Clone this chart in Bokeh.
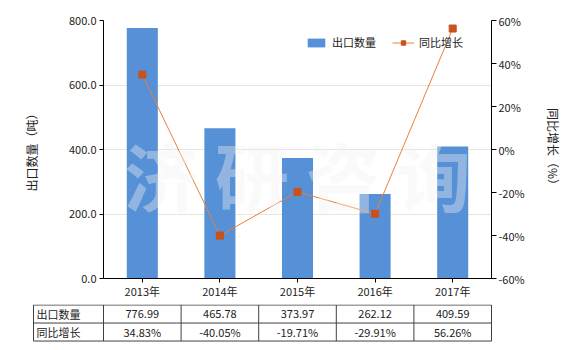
from bokeh.plotting import figure
from bokeh.models import (Range1d, LinearAxis, FactorRange, PrintfTickFormatter,
                          FixedTicker, Legend, LegendItem, Label)
from bokeh.layouts import column, row
from bokeh.core.properties import value
from bokeh.embed import file_html
from bokeh.resources import INLINE

years = ["2013年", "2014年", "2015年", "2016年", "2017年"]
export_qty = [776.99, 465.78, 373.97, 262.12, 409.59]
yoy_growth = [34.83, -40.05, -19.71, -29.91, 56.26]
row_labels = ["出口数量", "同比增长"]
left_ticks = [0, 200, 400, 600, 800]
right_ticks = [-60, -40, -20, 0, 20, 40, 60]

FONT = "Noto Sans CJK SC"
BAR = "#5690D6"
LINE = "#E8803A"
MARK = "#C9511C"
TXT = "#222222"

# ---------------- main chart ----------------
p = figure(frame_width=388, frame_height=258, x_range=FactorRange(*years, range_padding=0),
           y_range=Range1d(0, 800), output_backend="svg", toolbar_location=None,
           min_border_left=103, min_border_right=89, min_border_top=20,
           min_border_bottom=26)
p.outline_line_color = None
p.background_fill_color = "white"
p.xgrid.visible = False
p.ygrid.grid_line_color = "#e6e6dc"
p.ygrid.ticker = FixedTicker(ticks=left_ticks)

p.extra_y_ranges = {"pct": Range1d(-60, 60)}

bars = p.vbar(x=years, top=export_qty, width=0.4, color=BAR, line_color=None)

wm = Label(x=2.5, y=326, text="济 研 咨 询", text_align="center", text_baseline="middle",
           text_font=FONT, text_font_size="74px", text_font_style="bold",
           text_color="#f2f2f2", text_alpha=0.38)
p.add_layout(wm)

ln = p.line(x=years, y=yoy_growth, y_range_name="pct", line_color=LINE, line_width=1)
mk = p.scatter(x=years, y=yoy_growth, y_range_name="pct", marker="square", size=7,
               fill_color=MARK, line_color=MARK)

# left axis
ya = p.yaxis[0]
ya.ticker = FixedTicker(ticks=left_ticks)
ya.formatter = PrintfTickFormatter(format="%.1f")
ya.axis_label = "出口数量（吨）"
ya.axis_label_text_font = FONT
ya.axis_label_text_font_style = "normal"
ya.axis_label_text_font_size = "12px"
ya.axis_label_text_color = TXT
ya.axis_label_standoff = 26
ya.major_label_text_font = FONT
ya.major_label_text_font_size = "11px"
ya.major_label_text_color = TXT
ya.major_label_standoff = 3
ya.major_tick_in = 0
ya.major_tick_out = 4
ya.minor_tick_line_color = None
ya.axis_line_color = "black"
ya.major_tick_line_color = "black"

# right axis
ra = LinearAxis(y_range_name="pct", ticker=FixedTicker(ticks=right_ticks),
                formatter=PrintfTickFormatter(format="%d%%"))
ra.axis_label = "同比增长（%）"
ra.axis_label_text_font = FONT
ra.axis_label_text_font_style = "normal"
ra.axis_label_text_font_size = "12px"
ra.axis_label_text_color = TXT
ra.axis_label_standoff = 17
ra.major_label_text_font = FONT
ra.major_label_text_font_size = "11px"
ra.major_label_text_color = TXT
ra.major_label_standoff = 2
ra.major_tick_in = 0
ra.major_tick_out = 5
ra.minor_tick_line_color = None
ra.axis_line_color = "black"
ra.major_tick_line_color = "black"
p.add_layout(ra, "right")

# bottom axis
xa = p.xaxis[0]
xa.major_label_text_font = FONT
xa.major_label_text_font_size = "11px"
xa.major_label_text_color = TXT
xa.major_label_standoff = 0
xa.major_tick_in = 0
xa.major_tick_out = 4
xa.axis_line_color = "black"
xa.major_tick_line_color = "black"

legend = Legend(items=[LegendItem(label=row_labels[0], renderers=[bars]),
                       LegendItem(label=row_labels[1], renderers=[ln, mk])],
                orientation="horizontal", location=(202, 228),
                border_line_color=None, background_fill_alpha=0,
                padding=0, margin=0, spacing=16, label_standoff=5,
                glyph_width=22, glyph_height=11, label_height=16,
                label_text_font=FONT, label_text_font_size="11px",
                label_text_color=TXT)
p.add_layout(legend)

# ---------------- table ----------------
n = len(years)
px_per_unit = 388.0 / n
t = figure(frame_width=580, frame_height=46, output_backend="svg", toolbar_location=None,
           x_range=Range1d(-103 / px_per_unit, n + 89 / px_per_unit),
           y_range=Range1d(2 - 46 / 18 + 0.03, 2 + 0.5 / 18),
           min_border=0, min_border_left=0, min_border_right=0,
           min_border_top=0, min_border_bottom=0,
           x_axis_location=None, y_axis_location=None)
t.outline_line_color = None
t.grid.visible = False

first_col = -70 / px_per_unit
rows = [2, 1, 0]
t.segment(x0=[first_col] * 3, x1=[n] * 3, y0=rows, y1=rows,
          line_color="#404040", line_width=1)
cols = [first_col] + list(range(n + 1))
t.segment(x0=cols, x1=cols, y0=[0] * len(cols), y1=[2] * len(cols),
          line_color="#404040", line_width=1)

t.text(x=[first_col + 0.04] * 2, y=[1.5, 0.5], text=row_labels,
       text_font=value(FONT), text_font_size="11px", text_color=TXT,
       text_align="left", text_baseline="middle")
centers = [i + 0.5 for i in range(n)]
t.text(x=centers, y=[1.5] * n, text=["%.2f" % v for v in export_qty],
       text_font=value(FONT), text_font_size="11px", text_color=TXT,
       text_align="center", text_baseline="middle")
t.text(x=centers, y=[0.5] * n, text=["%.2f%%" % v for v in yoy_growth],
       text_font=value(FONT), text_font_size="11px", text_color=TXT,
       text_align="center", text_baseline="middle")

layout = column(p, row(t), spacing=0)
open("out.html", "w").write(file_html(layout, INLINE))
